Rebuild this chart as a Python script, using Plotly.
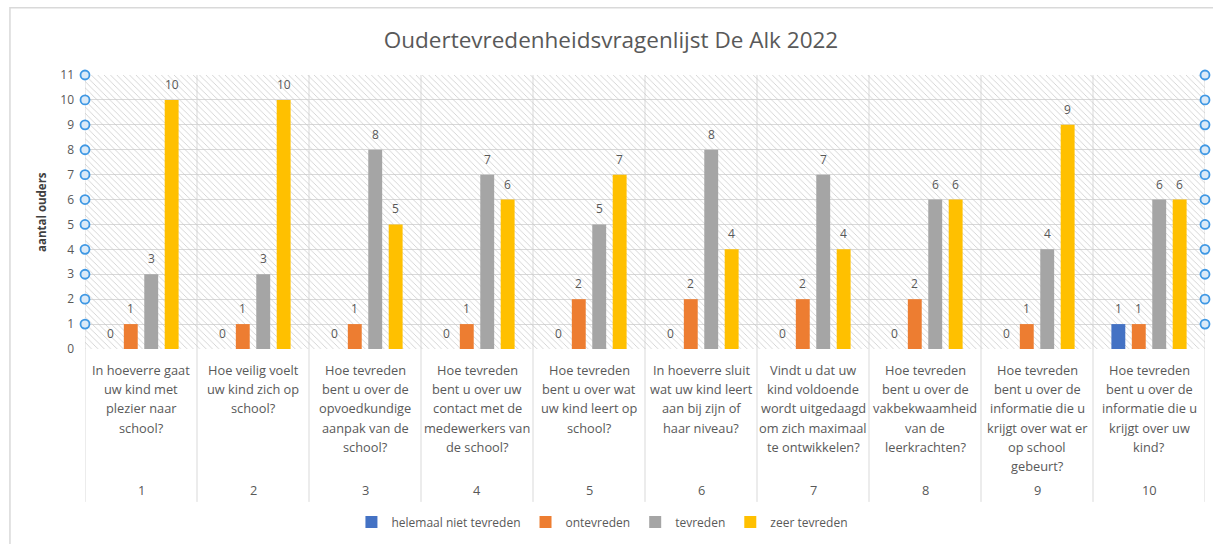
import plotly.graph_objects as go

# ---------------- data ----------------
categories = [1, 2, 3, 4, 5, 6, 7, 8, 9, 10]
question_lines = [
    ["In hoeverre gaat", "uw kind met", "plezier naar", "school?"],
    ["Hoe veilig voelt", "uw kind zich op", "school?"],
    ["Hoe tevreden", "bent u over de", "opvoedkundige", "aanpak van de", "school?"],
    ["Hoe tevreden", "bent u over uw", "contact met de", "medewerkers van", "de school?"],
    ["Hoe tevreden", "bent u over wat", "uw kind leert op", "school?"],
    ["In hoeverre sluit", "wat uw kind leert", "aan bij zijn of", "haar niveau?"],
    ["Vindt u dat uw", "kind voldoende", "wordt uitgedaagd", "om zich maximaal", "te ontwikkelen?"],
    ["Hoe tevreden", "bent u over de", "vakbekwaamheid", "van de", "leerkrachten?"],
    ["Hoe tevreden", "bent u over de", "informatie die u", "krijgt over wat er", "op school", "gebeurt?"],
    ["Hoe tevreden", "bent u over de", "informatie die u", "krijgt over uw", "kind?"],
]
series_names = ["helemaal niet tevreden", "ontevreden", "tevreden", "zeer tevreden"]
helemaal_niet_tevreden = [0, 0, 0, 0, 0, 0, 0, 0, 0, 1]
ontevreden = [1, 1, 1, 1, 2, 2, 2, 2, 1, 1]
tevreden = [3, 3, 8, 7, 5, 8, 7, 6, 4, 6]
zeer_tevreden = [10, 10, 5, 6, 7, 4, 4, 6, 9, 6]
series_values = [helemaal_niet_tevreden, ontevreden, tevreden, zeer_tevreden]
series_colors = ["#4472c4", "#ed7d31", "#a5a5a5", "#ffc000"]
y_ticks = list(range(0, 12))
title_text = "Oudertevredenheidsvragenlijst De Alk 2022"
y_title = "aantal ouders"

# ---------------- style ----------------
FONT = "Open Sans"
TXT = "#595959"
GRID = "#d9d9d9"
BARGAP = 0.27
BARGROUPGAP = 0.32
X_RANGE = [categories[0] - 0.5, categories[-1] + 0.5]
Y_RANGE = [y_ticks[0], y_ticks[-1]]

fig = go.Figure()

# hatched plot background (main axes, beneath overlay bars)
fig.add_trace(go.Scatter(
    x=[X_RANGE[0], X_RANGE[1], X_RANGE[1], X_RANGE[0], X_RANGE[0]],
    y=[Y_RANGE[0], Y_RANGE[0], Y_RANGE[1], Y_RANGE[1], Y_RANGE[0]],
    fill="toself", mode="none", fillcolor="rgba(255,255,255,0)",
    fillpattern=dict(shape="\\", fgcolor="#c6c6c6", bgcolor="rgba(255,255,255,0)",
                     fgopacity=1, fillmode="replace", size=4.5, solidity=0.16),
    hoverinfo="skip", showlegend=False, xaxis="x", yaxis="y"))

for name, vals, col in zip(series_names, series_values, series_colors):
    fig.add_trace(go.Bar(x=categories, y=vals, name=name, marker_color=col,
                         marker_line_width=0, xaxis="x2", yaxis="y2"))

# selection-handle circles on both value axes
handle_y = y_ticks[1:]
fig.add_trace(go.Scatter(
    x=[X_RANGE[0]] * len(handle_y) + [X_RANGE[1]] * len(handle_y),
    y=handle_y + handle_y, mode="markers", cliponaxis=False,
    marker=dict(symbol="circle", size=9, color="#dbeaf8",
                line=dict(color="#3f98e4", width=1.8)),
    hoverinfo="skip", showlegend=False, xaxis="x2", yaxis="y2"))

annotations = []
# data labels
slot = (1 - BARGAP) / len(series_values)
for i, vals in enumerate(series_values):
    off = (i - (len(series_values) - 1) / 2) * slot
    for c, v in zip(categories, vals):
        annotations.append(dict(x=c + off, y=v, xref="x", yref="y", text=str(v),
                                showarrow=False, yanchor="bottom", yshift=5,
                                font=dict(family=FONT, size=12, color=TXT)))
# category labels
for c, lines in zip(categories, question_lines):
    for k, line in enumerate(lines):
        annotations.append(dict(x=c, y=0, xref="x", yref="paper", text=line,
                                showarrow=False, yanchor="middle",
                                yshift=-(21 + 19.2 * k),
                                font=dict(family=FONT, size=12.8, color=TXT)))
    annotations.append(dict(x=c, y=0, xref="x", yref="paper", text=str(c),
                            showarrow=False, yanchor="middle", yshift=-141,
                            font=dict(family=FONT, size=12.8, color=TXT)))
# y axis title
annotations.append(dict(x=0, y=0.5, xref="paper", yref="paper", text="<b>" + y_title + "</b>",
                        showarrow=False, textangle=-90, xanchor="center", yanchor="middle",
                        xshift=-44,
                        font=dict(family=FONT, size=11.5, color="#404040")))

shapes = []
for b in [c - 0.5 for c in categories] + [categories[-1] + 0.5]:
    shapes.append(dict(type="line", xref="x", yref="paper", x0=b, x1=b,
                       y0=-0.558, y1=1, line=dict(color=GRID, width=1), layer="below"))
# outer chart frame
shapes.append(dict(type="rect", xref="paper", yref="paper", x0=-0.067, x1=1.02,
                   y0=-0.75, y1=1.245, line=dict(color=GRID, width=1.5), layer="below"))

fig.update_layout(
    width=1213, height=544,
    margin=dict(l=85, r=8, t=75, b=195),
    paper_bgcolor="white", plot_bgcolor="white",
    barmode="group", bargap=BARGAP, bargroupgap=BARGROUPGAP,
    title=dict(text=title_text, x=611 / 1213, xanchor="center", xref="container",
               y=1 - 40 / 544, yanchor="middle",
               font=dict(family=FONT, size=22.5, color=TXT)),
    xaxis=dict(range=X_RANGE, showgrid=False, zeroline=False, showticklabels=False,
               showline=False, fixedrange=True),
    yaxis=dict(range=Y_RANGE, tickvals=y_ticks, showgrid=True, gridcolor=GRID,
               gridwidth=1, zeroline=False, showline=False, ticks="",
               ticklabelstandoff=10,
               tickfont=dict(family=FONT, size=12, color=TXT)),
    xaxis2=dict(range=X_RANGE, overlaying="x", visible=False),
    yaxis2=dict(range=Y_RANGE, overlaying="y", visible=False),
    legend=dict(orientation="h", x=0.462, xanchor="center", y=-0.631, yanchor="middle",
                font=dict(family=FONT, size=12, color=TXT), itemwidth=30,
                traceorder="normal"),
    annotations=annotations, shapes=shapes,
    font=dict(family=FONT, color=TXT),
)

fig.write_html("out.html")
